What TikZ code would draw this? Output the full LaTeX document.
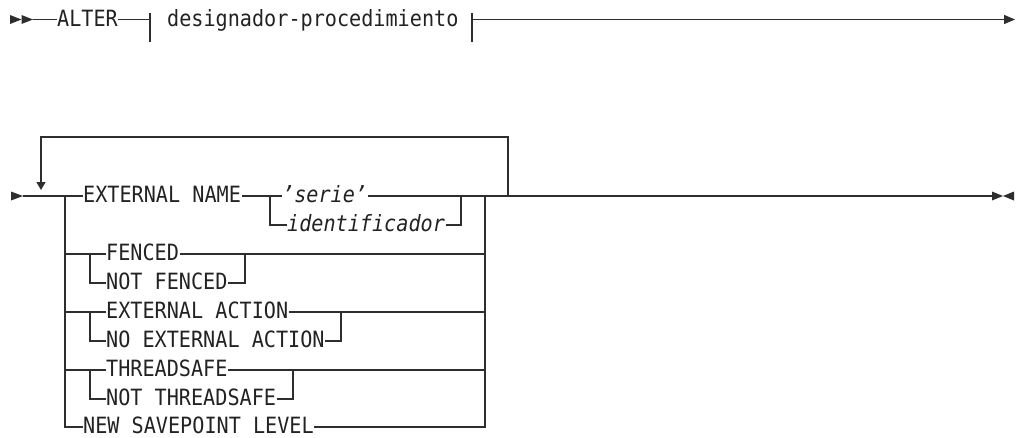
\documentclass[tikz,border=0pt]{standalone}
\usepackage{fontspec}
\newfontfamily\dm[FakeStretch=0.9]{DejaVu Sans Mono}
\usetikzlibrary{arrows.meta}
\definecolor{lc}{HTML}{2E2E2E}
\definecolor{tc}{HTML}{222222}
\begin{document}
\begin{tikzpicture}[x=1pt,y=-1pt,
  every path/.style={draw=lc, line width=1.3pt, line join=miter},
  txt/.style={draw=none, inner sep=0pt, text height=13pt, text depth=0pt, anchor=west, text=tc, font=\dm\fontsize{22.4}{26}\selectfont},
  itx/.style={txt, font=\dm\itshape\fontsize{22.4}{26}\selectfont},
  tip/.style={-{Triangle[length=11pt,width=9pt]}}]
\useasboundingbox[draw=none] (0,0) rectangle (1017,437);

% ---------- first diagram ----------
\fill[lc, draw=none] (10,15) -- (21.5,19.5) -- (10,24) -- cycle;
\fill[lc, draw=none] (21.5,15) -- (33,19.5) -- (21.5,24) -- cycle;
\coordinate (s1) at (33,19.5);
\node[txt] (alter) at (56.5,19.5) {ALTER};
\coordinate (b1) at (150,19.5);
\node[txt] (desig) at (166.5,19.5) {designador-procedimiento};
\coordinate (b2) at (472,19.5);
\coordinate (e1) at (1015,19.5);
\draw (s1) -- (alter.west);
\draw (alter.east) -- (b1);
\draw (b1 |- 0,13) -- (b1 |- 0,42);
\draw (b2 |- 0,13) -- (b2 |- 0,42);
\draw[tip] (b2) -- (e1);

% ---------- second diagram ----------
\fill[lc, draw=none] (11,191.5) -- (23,196) -- (11,200.5) -- cycle;
\coordinate (s2) at (23,196);
\coordinate (L) at (65,196);
\coordinate (R) at (485,196);
\coordinate (loopR) at (508,196);
\coordinate (e2) at (992,196);

\node[txt] (extname) at (82.5,196) {EXTERNAL NAME};
\node[itx] (serie) at (281.5,196) {’serie’~};
\node[itx] (ident) at (286.5,225) {identificador};
\node[txt] (fenced) at (105.5,254) {FENCED};
\node[txt] (nfenced) at (105.5,283) {NOT FENCED};
\node[txt] (eact) at (105.5,312) {EXTERNAL ACTION};
\node[txt] (neact) at (105.5,341) {NO EXTERNAL ACTION};
\node[txt] (tsafe) at (105.5,370) {THREADSAFE};
\node[txt] (ntsafe) at (105.5,399) {NOT THREADSAFE};
\node[txt] (nsl) at (82.5,427) {NEW SAVEPOINT LEVEL};

% main line
\draw (s2) -- (L);
\draw (R) -- (e2);
\draw[line width=2.4pt] (513,196) -- (537,196);
% loop back
\draw[-{Triangle[length=8pt,width=9pt]}] (loopR) -- (508,137) -- (41,137) -- (41,190);

% outer branch
\draw (L) -- (L |- nsl.west) -- (nsl.west);
\draw (nsl.east) -- (R |- nsl.east) -- (R);

% EXTERNAL NAME row
\draw (L) -- (extname.west);
\coordinate (j1) at (270,196);
\coordinate (j2) at (461,196);
\draw (extname.east) -- (j1) -- (serie.west);
\draw (serie.east) -- (R);
\draw (j1) -- (j1 |- ident.west) -- (ident.west);
\draw (ident.east) -- (j2 |- ident.east) -- (j2);

% FENCED
\draw (L |- fenced.west) -- (fenced.west);
\draw (fenced.east) -- (R |- fenced.east);
\draw (90,254) -- (90,283) -- (nfenced.west);
\draw (nfenced.east) -- (245,283) -- (245,254);

% EXTERNAL ACTION
\draw (L |- eact.west) -- (eact.west);
\draw (eact.east) -- (R |- eact.east);
\draw (90,312) -- (90,341) -- (neact.west);
\draw (neact.east) -- (341,341) -- (341,312);

% THREADSAFE
\draw (L |- tsafe.west) -- (tsafe.west);
\draw (tsafe.east) -- (R |- tsafe.east);
\draw (90,370) -- (90,399) -- (ntsafe.west);
\draw (ntsafe.east) -- (293,399) -- (293,370);

% end marks
\fill[lc, draw=none] (992,191.5) -- (1003,196) -- (992,200.5) -- cycle;
\fill[lc, draw=none] (1014,191.5) -- (1003,196) -- (1014,200.5) -- cycle;
\end{tikzpicture}
\end{document}
